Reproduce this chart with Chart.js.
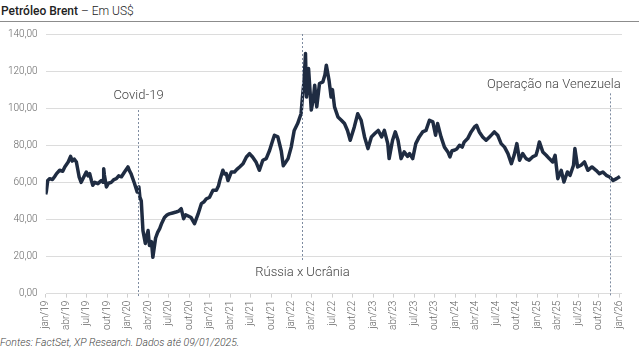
<!DOCTYPE html>
<html lang="pt-BR">
<head>
<meta charset="utf-8">
<script src="https://cdn.jsdelivr.net/npm/chart.js@4/dist/chart.umd.min.js"></script>
<style>
  html, body { margin: 0; padding: 0; background: #fff; }
  body { width: 639px; height: 353px; position: relative; overflow: hidden; font-family: Roboto, sans-serif; }
  #title { position: absolute; left: 1px; top: 4px; font-size: 12px; color: #222; white-space: nowrap; }
  #title b { font-weight: 500; }
  #title span { font-weight: 300; }
  #rule { position: absolute; left: 0; top: 21px; width: 639px; height: 1px; background: #8c8c8c; }
  #box { position: absolute; left: 0; top: 20px; width: 639px; height: 313px; }
  #foot { position: absolute; left: 0; top: 336px; font-size: 10.5px; font-style: italic; font-weight: 300; color: #444; white-space: nowrap; }
</style>
</head>
<body>
<div id="title"><b>Petróleo Brent</b><span> – Em US$</span></div>
<div id="rule"></div>
<div id="box"><canvas id="c"></canvas></div>
<div id="foot">Fontes: FactSet, XP Research. Dados até 09/01/2025.</div>
<script>
// Eixo X em meses contados a partir de jan/19 (0 = jan/19, 84 = jan/26).
const months = [
  0.0, 0.1, 0.3, 0.6, 1.0, 1.3, 1.6, 2.05, 2.5, 2.8, 3.3, 3.65, 3.9, 4.2, 4.5, 4.9, 5.2, 5.6, 5.95, 6.2,
  6.45, 6.7, 6.9, 7.2, 7.65, 8.15, 8.4, 8.5, 8.6, 8.9, 9.2, 9.6, 10.0, 10.35, 10.7, 11.1, 11.55, 12.05, 12.3, 12.5,
  13.0, 13.4, 13.65, 13.8, 14.0, 14.25, 14.6, 14.8, 15.0, 15.2, 15.5, 15.7, 16.1, 16.4, 16.7, 17.0, 17.4, 17.8, 18.1, 18.6,
  19.1, 19.5, 19.85, 20.2, 20.5, 20.8, 21.3, 21.8, 22.3, 22.8, 23.2, 23.5, 24.0, 24.5, 25.0, 25.3, 25.5, 25.95, 26.2, 26.45,
  26.7, 27.2, 27.65, 28.0, 28.4, 28.9, 29.4, 29.85, 30.3, 30.8, 31.3, 31.8, 32.3, 32.8, 33.2, 33.5, 34.0, 34.3, 34.5, 34.8,
  35.0, 35.5, 35.96, 36.4, 36.9, 37.4, 37.6, 37.85, 38.05, 38.2, 38.5, 38.9, 39.2, 39.4, 39.7, 40.1, 40.6, 40.9, 41.1, 41.5,
  41.8, 42.0, 42.3, 42.8, 43.3, 43.76, 44.2, 44.6, 45.2, 45.7, 46.2, 46.7, 47.2, 47.7, 48.2, 48.7, 49.2, 49.6, 50.1, 50.3,
  50.8, 51.2, 51.6, 52.05, 52.5, 53.0, 53.3, 53.75, 54.2, 54.7, 55.2, 55.7, 56.2, 56.7, 57.1, 57.4, 57.9, 58.4, 58.9, 59.2,
  59.5, 59.85, 60.2, 60.6, 61.0, 61.3, 61.8, 62.3, 62.8, 63.1, 63.5, 64.0, 64.5, 65.0, 65.4, 65.7, 66.2, 66.7, 67.2, 67.7,
  68.2, 68.6, 69.0, 69.4, 69.85, 70.35, 70.8, 71.3, 71.8, 72.0, 72.3, 72.8, 73.3, 73.75, 74.25, 74.6, 75.0, 75.5, 75.9, 76.4,
  76.8, 77.3, 77.5, 77.9, 78.4, 78.9, 79.4, 80.0, 80.6, 81.1, 81.6, 82.1, 82.6, 83.1, 83.6, 84.1
];
const brent = [
  53.5, 55, 61, 62, 61.5, 63, 64.7, 66.5, 66, 68.3, 71, 74, 71.5, 72.5, 71, 63, 60, 63, 65.6, 63.5,
  64.7, 61, 58.4, 60, 59.3, 61, 60, 67.4, 64, 57.5, 59.5, 60, 61.5, 62, 63.5, 63, 65.6, 68.3, 66, 64.7,
  59.5, 54.8, 57.5, 52, 50, 34, 27, 31, 34, 26, 28, 19.6, 30, 33, 35, 38, 41, 42.5, 43, 43.5,
  44, 44.5, 45.8, 40.4, 42.5, 42, 41, 37.7, 42.7, 48.5, 49.5, 51, 52, 55.7, 55.7, 58, 61, 66.5, 64.5, 64.7,
  61, 65.6, 65.6, 67, 68.3, 70, 73.7, 75.5, 73.7, 71, 66.5, 71.9, 72.8, 77.3, 82, 85.4, 84.5, 80, 77, 69,
  70, 72.8, 79, 88, 91.7, 97, 106, 115, 129.5, 106, 121.4, 99, 105, 112.4, 100.7, 113.3, 114.2, 118, 123.2, 115,
  106, 110, 100.7, 95.3, 93.5, 91.7, 88, 82.7, 89.9, 97, 93.5, 84.5, 78.2, 84.5, 86.3, 88, 84.5, 88, 80.9, 72.8,
  82.7, 87.2, 82.7, 72.8, 76.4, 74, 75.5, 72.8, 80.9, 84.5, 87.2, 88, 93.5, 92.6, 85.4, 91.7, 84.5, 79, 76.4, 73.7,
  77, 77.3, 78, 80, 79, 81.8, 83.6, 87.2, 89.9, 90.8, 87.2, 84.5, 82.7, 84.5, 86, 87.2, 85.4, 80.9, 79, 75.5,
  70.1, 74.6, 80.9, 71.9, 75.5, 72.8, 72, 73.7, 74.6, 77, 81.8, 76.4, 74.6, 72.8, 71, 74.6, 62, 66.5, 60.2, 65.6,
  63.8, 69.2, 78.2, 68.3, 69.2, 71, 66.5, 68.3, 66.5, 64.7, 65.6, 63.8, 62.9, 61, 62, 63.2
];
const tickLabels = [
  'jan/19', 'abr/19', 'jul/19', 'out/19', 'jan/20', 'abr/20', 'jul/20', 'out/20',
  'jan/21', 'abr/21', 'jul/21', 'out/21', 'jan/22', 'abr/22', 'jul/22', 'out/22',
  'jan/23', 'abr/23', 'jul/23', 'out/23', 'jan/24', 'abr/24', 'jul/24', 'out/24',
  'jan/25', 'abr/25', 'jul/25', 'out/25', 'jan/26'
];
// Eventos marcados com linha pontilhada vertical
const eventNames = ['Covid-19', 'Rússia x Ucrânia', 'Operação na Venezuela'];
const eventMonths = [13.5, 37.5, 82.7];

// Onde desenhar cada marcação (em valores do eixo Y) e como alinhar o texto.
const eventStyle = [
  { from: -2, to: 99, labelY: 106.5, align: 'center' },
  { from: 18, to: 140, labelY: 11.4, align: 'center' },
  { from: -2, to: 108, labelY: 112.4, align: 'right', labelX: 84.2 },
];

const grey = '#666';
const lineColor = '#1f2c42';

const eventsPlugin = {
  id: 'events',
  afterDatasetsDraw(chart) {
    const { ctx, scales: { x, y } } = chart;
    ctx.save();
    eventMonths.forEach((m, i) => {
      const st = eventStyle[i];
      const px = Math.round(x.getPixelForValue(m)) + 0.5;
      ctx.strokeStyle = '#7d8ba0';
      ctx.lineWidth = 1;
      ctx.setLineDash([2, 2]);
      ctx.beginPath();
      ctx.moveTo(px, y.getPixelForValue(st.to));
      ctx.lineTo(px, y.getPixelForValue(st.from));
      ctx.stroke();

      ctx.setLineDash([]);
      ctx.fillStyle = '#444';
      ctx.font = '300 13px Roboto';
      ctx.textAlign = st.align;
      ctx.textBaseline = 'middle';
      const tx = st.labelX != null ? x.getPixelForValue(st.labelX) : px;
      ctx.fillText(eventNames[i], tx, y.getPixelForValue(st.labelY));
    });
    ctx.restore();
  }
};

const data = months.map((m, i) => ({ x: m, y: brent[i] }));

new Chart(document.getElementById('c'), {
  type: 'line',
  data: {
    datasets: [{
      label: 'Brent',
      data,
      borderColor: lineColor,
      backgroundColor: lineColor,
      borderWidth: 3.5,
      pointRadius: 0,
      tension: 0,
      borderJoinStyle: 'round',
      fill: false,
    }]
  },
  options: {
    responsive: true,
    maintainAspectRatio: false,
    animation: false,
    layout: { padding: { top: 4, right: 17, left: 0, bottom: 0 } },
    plugins: { legend: { display: false }, tooltip: { enabled: false } },
    scales: {
      x: {
        type: 'linear',
        min: 0,
        max: 84.4,
        afterBuildTicks: (axis) => {
          axis.ticks = tickLabels.map((_, i) => ({ value: i * 3 }));
        },
        grid: { display: true, drawOnChartArea: false, drawTicks: true, tickLength: 4, color: '#cfcfcf' },
        border: { display: false },
        ticks: {
          autoSkip: false,
          minRotation: 90,
          maxRotation: 90,
          color: grey,
          padding: 3,
          font: { family: 'Roboto', size: 10, weight: 300 },
          callback: (v) => tickLabels[Math.round(v / 3)],
        },
      },
      y: {
        min: 0,
        max: 140,
        grid: { color: '#dcdcdc', drawTicks: false },
        border: { display: false },
        ticks: {
          stepSize: 20,
          padding: 8,
          color: grey,
          font: { family: 'Roboto', size: 10, weight: 300 },
          callback: (v) => v.toFixed(2).replace('.', ','),
        },
      },
    },
  },
  plugins: [eventsPlugin],
});
</script>
</body>
</html>
